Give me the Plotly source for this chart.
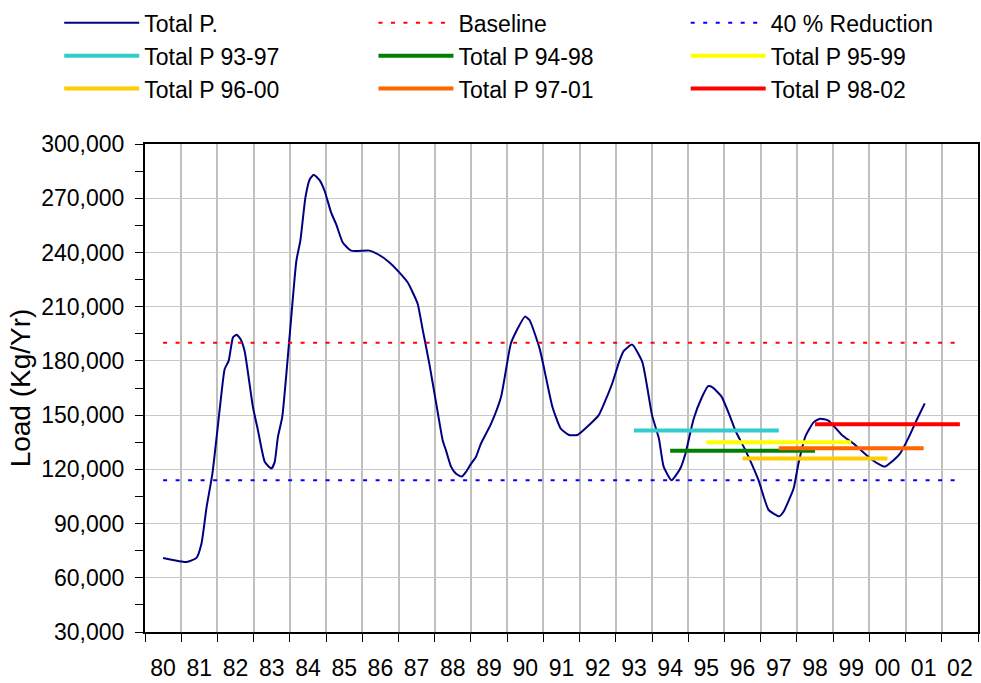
import plotly.graph_objects as go

# ---------------- data ----------------
years_total = [1980.00, 1980.50, 1980.65, 1980.92, 1981.06, 1981.20, 1981.36, 1981.57, 1981.70, 1981.81,
               1981.93, 1982.03, 1982.14, 1982.25, 1982.48, 1982.62, 1982.81, 1982.99, 1983.08, 1983.17,
               1983.29, 1983.49, 1983.68, 1983.79, 1983.93, 1984.05, 1984.16, 1984.32, 1984.46, 1984.64,
               1984.78, 1984.96, 1985.19, 1985.70, 1985.93, 1986.25, 1986.52, 1986.75, 1986.89, 1987.03,
               1987.17, 1987.35, 1987.54, 1987.72, 1987.81, 1987.95, 1988.09, 1988.25, 1988.36, 1988.50,
               1988.64, 1988.77, 1989.05, 1989.33, 1989.60, 1989.78, 1989.99, 1990.12, 1990.40, 1990.57,
               1990.75, 1990.98, 1991.21, 1991.44, 1991.76, 1992.03, 1992.40, 1992.59, 1992.72, 1992.95,
               1993.23, 1993.50, 1993.69, 1993.82, 1994.04, 1994.28, 1994.42, 1994.65, 1994.88, 1995.05,
               1995.16, 1995.41, 1995.62, 1995.80, 1996.08, 1996.44, 1996.72, 1997.01, 1997.13, 1997.41,
               1997.54, 1997.73, 1997.96, 1998.14, 1998.37, 1998.74, 1999.11, 1999.47, 1999.75, 1999.93,
               2000.11, 2000.34, 2000.57, 2000.80, 2001.03]
total_p = [71000, 69000, 68700, 71000, 79000, 99000, 117500, 154500, 175500, 180000,
           193000, 194500, 192000, 185500, 154500, 141500, 124000, 120500, 124000, 138000,
           149000, 193000, 235500, 246500, 270500, 280500, 283000, 280000, 274000, 262000,
           255500, 245500, 241000, 241000, 239000, 234500, 229000, 223500, 218000, 211500,
           197000, 178500, 156500, 136000, 130500, 121500, 117500, 116000, 118500, 123000,
           127000, 134000, 145000, 160000, 189500, 197500, 204500, 202500, 186500, 171000,
           154500, 142500, 139000, 139000, 144500, 150000, 167500, 179500, 185500, 189000,
           179500, 150000, 137000, 121500, 114000, 120500, 128500, 148000, 160000, 166000,
           165500, 160500, 151000, 141500, 130500, 114000, 97500, 94000, 96500, 109500,
           123000, 138000, 146000, 148000, 147000, 139000, 133500, 127000, 123000, 121500,
           124000, 128500, 137000, 147000, 156500]

baseline_years = [1980, 2002]
baseline_vals = [190000, 190000]
reduction_vals = [114000, 114000]

avg_names = ["Total P 93-97", "Total P 94-98", "Total P 95-99",
             "Total P 96-00", "Total P 97-01", "Total P 98-02"]
avg_start = [1993, 1994, 1995, 1996, 1997, 1998]
avg_end = [1997, 1998, 1999, 2000, 2001, 2002]
avg_vals = [141500, 130300, 135000, 126000, 131600, 145000]
avg_colors = ["#33CCCC", "#008000", "#FFFF00", "#FFCC00", "#FF6600", "#FF0000"]

tick_years = list(range(1980, 2003))
tick_labels = ["80", "81", "82", "83", "84", "85", "86", "87", "88", "89", "90", "91",
               "92", "93", "94", "95", "96", "97", "98", "99", "00", "01", "02"]

# legend column for each moving-average series (3-column legend layout)
avg_legend = ["legend", "legend2", "legend3", "legend", "legend2", "legend3"]

# ---------------- figure ----------------
fig = go.Figure()
fig.add_trace(go.Scatter(x=years_total, y=total_p, mode="lines", name="Total P.",
                         line=dict(color="#000080", width=2, shape="spline", smoothing=0.5),
                         legend="legend"))
fig.add_trace(go.Scatter(x=baseline_years, y=baseline_vals, mode="lines", name="Baseline",
                         line=dict(color="#FF0000", width=2, dash="4px,8.5px"), legend="legend2"))
fig.add_trace(go.Scatter(x=baseline_years, y=reduction_vals, mode="lines", name="40 % Reduction",
                         line=dict(color="#0000FF", width=2, dash="4px,8.5px"), legend="legend3"))
for nm, s, e, v, c, lg in zip(avg_names, avg_start, avg_end, avg_vals, avg_colors, avg_legend):
    fig.add_trace(go.Scatter(x=[s, e], y=[v, v], mode="lines", name=nm,
                             line=dict(color=c, width=4), legend=lg))

font = "Arial, Liberation Sans, sans-serif"
ML, MT, PW, PH = 145, 143, 835, 489


def leg(xpx):
    return dict(orientation="v", x=(xpx - ML) / PW, xanchor="left",
                y=1 + MT / PH, yanchor="top",
                itemwidth=75, font=dict(size=23), bgcolor="rgba(0,0,0,0)",
                tracegroupgap=0, traceorder="normal")


fig.update_layout(
    width=981, height=683,
    margin=dict(l=ML, r=1, t=MT, b=51),
    paper_bgcolor="white", plot_bgcolor="white",
    font=dict(family=font, size=23, color="black"),
    showlegend=True,
    legend=leg(59), legend2=leg(374), legend3=leg(687),
    xaxis=dict(range=[1979.5, 2002.5], tickvals=tick_years, ticktext=tick_labels,
               ticks="", showgrid=False, zeroline=False,
               showline=True, mirror=True, linecolor="black", linewidth=2,
               ticklabelstandoff=14, tickfont=dict(size=23),
               minor=dict(tickvals=[y - 0.5 for y in tick_years] + [2002.5],
                          ticks="outside", ticklen=8, tickcolor="black", tickwidth=1,
                          showgrid=True, gridcolor="#C0C0C0", gridwidth=2)),
    yaxis=dict(range=[30000, 300000], dtick=30000, tickformat=",d",
               ticks="outside", ticklen=8, tickcolor="black", tickwidth=1,
               showgrid=True, gridcolor="#C8C8C8", gridwidth=1, zeroline=False,
               showline=True, mirror=True, linecolor="black", linewidth=2,
               tickfont=dict(size=23), ticklabelstandoff=6,
               title=dict(text="Load (Kg/Yr)", font=dict(size=28), standoff=2),
               minor=dict(dtick=15000, ticks="outside", ticklen=8, tickcolor="black",
                          tickwidth=1, showgrid=False)),
)

fig.write_html("out.html", post_script="document.body.style.margin='0';",
               config={"displayModeBar": False})
